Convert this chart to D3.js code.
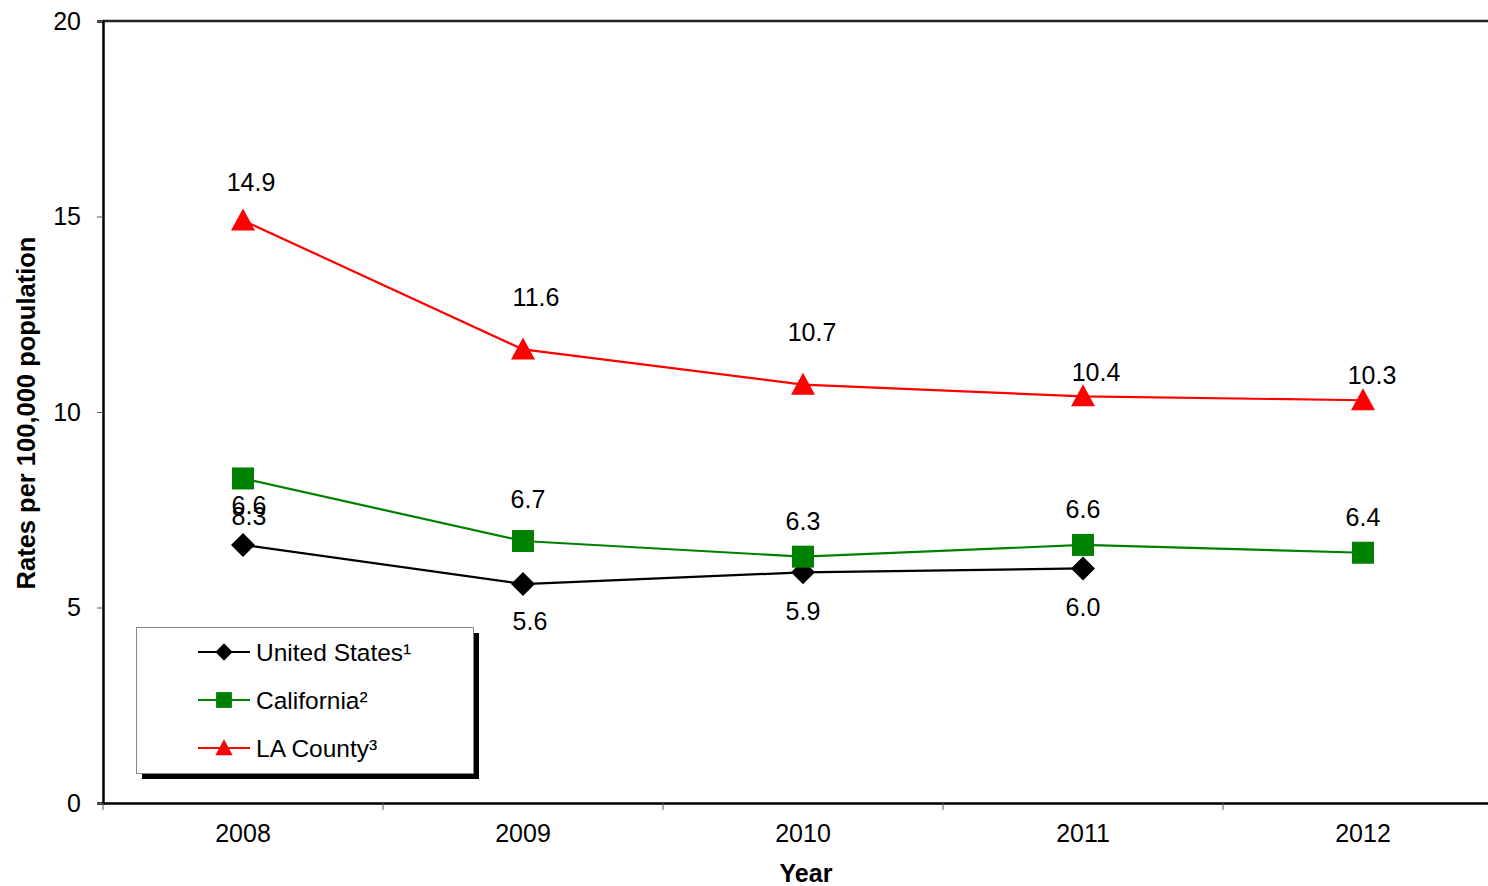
<!DOCTYPE html>
<html>
<head>
<meta charset="utf-8">
<script src="https://cdn.jsdelivr.net/npm/d3@7"></script>
<style>
html,body{margin:0;padding:0;background:#fff;overflow:hidden;}
svg{display:block;font-family:"Liberation Sans",Arial,sans-serif;}
</style>
</head>
<body>
<svg id="c" width="1488" height="886"></svg>
<script>
const years = ["2008","2009","2010","2011","2012"];
const unitedStates = [6.6, 5.6, 5.9, 6.0, null];
const california = [8.3, 6.7, 6.3, 6.6, 6.4];
const laCounty = [14.9, 11.6, 10.7, 10.4, 10.3];
const yTicks = [0, 5, 10, 15, 20];
const seriesNames = ["United States\u00b9", "California\u00b2", "LA County\u00b3"];

(function () {
const svg = d3.select("#c");
const pLeft = 103, pTop = 21, pRight = 1503, pBottom = 803;

const x = d3.scaleBand().domain(years).range([pLeft, pRight]);
const y = d3.scaleLinear().domain([0, 20]).range([pBottom, pTop]);
const cx = d => x(d) + x.bandwidth() / 2;

// frame
svg.append("line").attr("x1", pLeft).attr("x2", pRight).attr("y1", pTop).attr("y2", pTop)
  .attr("stroke", "#222").attr("stroke-width", 2.5);
svg.append("line").attr("x1", pRight).attr("x2", pRight).attr("y1", pTop).attr("y2", pBottom)
  .attr("stroke", "#222").attr("stroke-width", 2.5);

// y axis
const yAxis = d3.axisLeft(y).tickValues(yTicks).tickSize(6).tickPadding(16).tickFormat(d3.format("d"));
const gy = svg.append("g").attr("transform", `translate(${pLeft},0)`).call(yAxis);
gy.select(".domain").attr("stroke", "#000").attr("stroke-width", 2.5);
gy.selectAll(".tick line").attr("stroke", "#555").attr("stroke-width", 1);
gy.selectAll(".tick text").attr("font-size", 25).attr("fill", "#000").attr("font-family", "Liberation Sans, Arial, sans-serif");

// x axis
const xAxis = d3.axisBottom(x).tickSize(0).tickPadding(21);
const gx = svg.append("g").attr("transform", `translate(0,${pBottom})`).call(xAxis);
gx.select(".domain").attr("stroke", "#000").attr("stroke-width", 2.5);
gx.selectAll(".tick text").attr("font-size", 25).attr("fill", "#000").attr("font-family", "Liberation Sans, Arial, sans-serif");
// boundary ticks
const edges = years.map(d => x(d)).concat([pRight]);
svg.append("g").selectAll("line").data(edges).join("line")
  .attr("x1", d => d).attr("x2", d => d).attr("y1", pBottom).attr("y2", pBottom + 7)
  .attr("stroke", "#555").attr("stroke-width", 1);

// axis titles
svg.append("text").attr("x", 806).attr("y", 882)
  .attr("text-anchor", "middle").attr("font-size", 25).attr("font-weight", "bold").text("Year");
svg.append("text").attr("transform", `translate(35,413) rotate(-90)`)
  .attr("text-anchor", "middle").attr("font-size", 25.5).attr("font-weight", "bold").text("Rates per 100,000 population");

const series = [
  {name: seriesNames[0], values: unitedStates, color: "#000000", shape: "diamond"},
  {name: seriesNames[1], values: california, color: "#008000", shape: "square"},
  {name: seriesNames[2], values: laCounty, color: "#ff0000", shape: "triangle"}
];

function markerPath(shape) {
  if (shape === "diamond") return "M0,-12L12,0L0,12L-12,0Z";
  if (shape === "square") return "M-11,-11H11V11H-11Z";
  return "M0,-12L12,10L-12,10Z";
}

const line = d3.line().defined(d => d.v != null).x(d => cx(d.year)).y(d => y(d.v));

series.forEach(s => {
  const pts = years.map((yr, i) => ({year: yr, v: s.values[i]}));
  svg.append("path").datum(pts).attr("d", line).attr("fill", "none")
    .attr("stroke", s.color).attr("stroke-width", 2.2);
  svg.append("g").selectAll("path").data(pts.filter(d => d.v != null)).join("path")
    .attr("transform", d => `translate(${cx(d.year)},${y(d.v)})`)
    .attr("d", markerPath(s.shape)).attr("fill", s.color);
});

// data labels (layout offsets: dx, dy relative to marker; label baseline)
const labelOffsets = [
  [[6, -31], [7, 46], [0, 48], [0, 48], null],
  [[6, 47], [5, -33], [0, -27], [0, -27], [0, -27]],
  [[8, -29], [13, -43], [9, -44], [13, -15], [9, -16]]
];
series.forEach((s, si) => {
  const offs = labelOffsets[si];
  svg.append("g").selectAll("text")
    .data(years.map((yr, i) => ({year: yr, v: s.values[i], o: offs[i]})).filter(d => d.v != null))
    .join("text")
    .attr("x", d => cx(d.year) + d.o[0]).attr("y", d => y(d.v) + d.o[1])
    .attr("text-anchor", "middle").attr("font-size", 25).attr("fill", "#000")
    .text(d => d3.format(".1f")(d.v));
});

// legend
const lg = svg.append("g");
lg.append("rect").attr("x", 142).attr("y", 633).attr("width", 337).attr("height", 146).attr("fill", "#000");
lg.append("rect").attr("x", 136.5).attr("y", 627.5).attr("width", 337).attr("height", 146)
  .attr("fill", "#fff").attr("stroke", "#888").attr("stroke-width", 1);
series.forEach((s, i) => {
  const ly = 652 + i * 48;
  lg.append("line").attr("x1", 198).attr("x2", 250).attr("y1", ly).attr("y2", ly)
    .attr("stroke", s.color).attr("stroke-width", 2.2);
  lg.append("path").attr("transform", `translate(224,${ly}) scale(0.72)`)
    .attr("d", markerPath(s.shape)).attr("fill", s.color);
  lg.append("text").attr("x", 256).attr("y", ly + 8.5).attr("font-size", 24.5).attr("fill", "#000").text(s.name);
});
})();
</script>
</body>
</html>
